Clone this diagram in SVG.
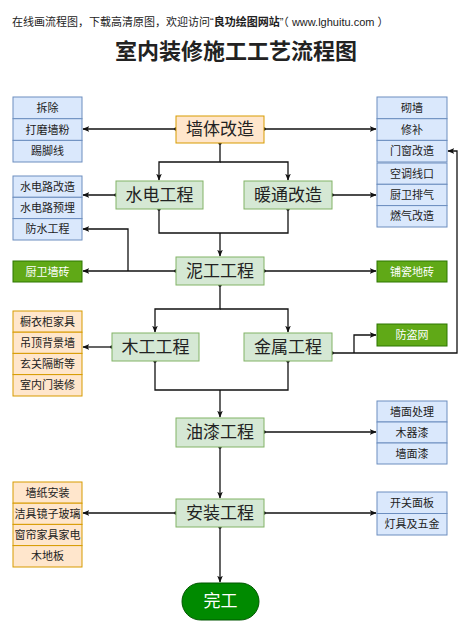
<svg xmlns="http://www.w3.org/2000/svg" width="475" height="632" viewBox="0 0 475 632">
<defs>
<marker id="arr" viewBox="0 0 10 10" refX="9" refY="5" markerWidth="7" markerHeight="7" markerUnits="userSpaceOnUse" orient="auto"><path d="M0,1 L10,5 L0,9 L2.5,5 Z" fill="#111"/></marker>
<marker id="dot" viewBox="0 0 10 10" refX="5" refY="5" markerWidth="4" markerHeight="4" markerUnits="userSpaceOnUse" orient="auto"><circle cx="5" cy="5" r="4.5" fill="#111"/></marker>
</defs>
<style>
text{font-family:"Liberation Sans","Noto Sans CJK SC",sans-serif;fill:#222}
.c{stroke:#111;stroke-width:1.3;fill:none}
.a{marker-end:url(#arr)}
.s{marker-start:url(#dot)}
.blue rect{fill:#dae8fc;stroke:#6c8ebf;stroke-width:1}
.org rect{fill:#ffe6cc;stroke:#d79b00;stroke-width:1}
.grn rect{fill:#d5e8d4;stroke:#82b366;stroke-width:1}
.dg rect{fill:#60a917;stroke:#2d7600;stroke-width:1}
.dg text{fill:#fff}
.sm{font-size:11px;text-anchor:middle;dominant-baseline:central}
.big{font-size:17px;text-anchor:middle;dominant-baseline:central}
</style>
<rect width="475" height="632" fill="#fff"/>
<text x="12" y="26" font-size="11">在线画流程图，下载高清原图，欢迎访问“<tspan font-weight="bold">良功绘图网站</tspan>”（ www.lghuitu.com ）</text>
<text x="236" y="59" font-size="22" font-weight="bold" text-anchor="middle">室内装修施工工艺流程图</text>

<g id="connectors">
<path class="c a s" d="M176,129 H83"/>
<path class="c a s" d="M264,129 H376"/>
<path class="c a s" d="M220,143 V162 H159 V180"/>
<path class="c a" d="M220,162 H288 V180"/>
<path class="c a s" d="M116,195 H83"/>
<path class="c a s" d="M332,195 H376"/>
<path class="c s" d="M159,209 V233 H220"/>
<path class="c s" d="M288,209 V233 H220"/>
<path class="c a" d="M220,233 V256"/>
<path class="c a s" d="M176,271 H83"/>
<path class="c a" d="M128,271 V229 H83"/>
<path class="c a s" d="M264,271 H376"/>
<path class="c a s" d="M220,285 V309 H155 V332"/>
<path class="c a" d="M220,309 H288 V332"/>
<path class="c a s" d="M112,347 H83"/>
<path class="c a s" d="M332,353 H457 V151 H448"/>
<path class="c a" d="M354,353 V335 H376"/>
<path class="c s" d="M155,361 V390 H220"/>
<path class="c s" d="M288,361 V390 H220"/>
<path class="c a" d="M220,390 V417"/>
<path class="c a s" d="M264,432 H376"/>
<path class="c a s" d="M220,447 V498"/>
<path class="c a s" d="M176,513 H83"/>
<path class="c a s" d="M264,513 H376"/>
<path class="c a s" d="M220,527 V582"/>
</g>

<g id="n-qiangti"><rect x="176" y="116" width="88" height="27" fill="#ffe6cc" stroke="#d79b00"/><text class="big" x="220" y="129.5">墙体改造</text></g>
<g id="n-shuidian" class="grn"><rect x="116" y="181" width="87" height="28"/><text class="big" x="159.5" y="195">水电工程</text></g>
<g id="n-nuantong" class="grn"><rect x="244" y="181" width="88" height="28"/><text class="big" x="288" y="195">暖通改造</text></g>
<g id="n-nigong" class="grn"><rect x="176" y="257" width="88" height="28"/><text class="big" x="220" y="271">泥工工程</text></g>
<g id="n-mugong" class="grn"><rect x="112" y="333" width="87" height="28"/><text class="big" x="155.5" y="347">木工工程</text></g>
<g id="n-jinshu" class="grn"><rect x="244" y="333" width="88" height="28"/><text class="big" x="288" y="347">金属工程</text></g>
<g id="n-youqi" class="grn"><rect x="176" y="418" width="88" height="29"/><text class="big" x="220" y="432.5">油漆工程</text></g>
<g id="n-anzhuang" class="grn"><rect x="176" y="499" width="88" height="28"/><text class="big" x="220" y="513">安装工程</text></g>
<g id="n-wangong"><rect x="182" y="583" width="77" height="37" rx="18.5" fill="#008a00" stroke="#005700"/><text class="big" x="220.5" y="601.5" fill="#fff" style="fill:#fff">完工</text></g>

<g id="n-chaichu" class="blue"><rect x="13" y="97" width="69" height="21.7"/><text class="sm" x="47.5" y="108">拆除</text></g>
<g id="n-damo" class="blue"><rect x="13" y="118.7" width="69" height="21.7"/><text class="sm" x="47.5" y="129.5">打磨墙粉</text></g>
<g id="n-tijiao" class="blue"><rect x="13" y="140.4" width="69" height="21.6"/><text class="sm" x="47.5" y="151.2">踢脚线</text></g>

<g id="n-qiqiang" class="blue"><rect x="377" y="97" width="70" height="21.7"/><text class="sm" x="412" y="108">砌墙</text></g>
<g id="n-xiubu" class="blue"><rect x="377" y="118.7" width="70" height="21.7"/><text class="sm" x="412" y="129.5">修补</text></g>
<g id="n-menchuang" class="blue"><rect x="377" y="140.4" width="70" height="21.6"/><text class="sm" x="412" y="151.2">门窗改造</text></g>

<g id="n-kongtiao" class="blue"><rect x="377" y="163" width="70" height="21.3"/><text class="sm" x="412" y="173.7">空调线口</text></g>
<g id="n-chuwei" class="blue"><rect x="377" y="184.3" width="70" height="21.3"/><text class="sm" x="412" y="195">厨卫排气</text></g>
<g id="n-ranqi" class="blue"><rect x="377" y="205.6" width="70" height="21.4"/><text class="sm" x="412" y="216.3">燃气改造</text></g>

<g id="n-sdgz" class="blue"><rect x="13" y="176" width="69" height="21.3"/><text class="sm" x="47.5" y="186.7">水电路改造</text></g>
<g id="n-sdym" class="blue"><rect x="13" y="197.3" width="69" height="21.3"/><text class="sm" x="47.5" y="208">水电路预埋</text></g>
<g id="n-fangshui" class="blue"><rect x="13" y="218.6" width="69" height="21.4"/><text class="sm" x="47.5" y="229.3">防水工程</text></g>

<g id="n-chuweiqz" class="dg"><rect x="13" y="261" width="69" height="21"/><text class="sm" x="47.5" y="271.5">厨卫墙砖</text></g>
<g id="n-puci" class="dg"><rect x="377" y="261" width="70" height="21"/><text class="sm" x="412" y="271.5">铺瓷地砖</text></g>
<g id="n-fangdao" class="dg"><rect x="377" y="324" width="70" height="22"/><text class="sm" x="412" y="335">防盗网</text></g>

<g id="n-chuyi" class="org"><rect x="13" y="311" width="69" height="21.2"/><text class="sm" x="47.5" y="321.6">橱衣柜家具</text></g>
<g id="n-diaoding" class="org"><rect x="13" y="332.2" width="69" height="21.2"/><text class="sm" x="47.5" y="342.8">吊顶背景墙</text></g>
<g id="n-xuanguan" class="org"><rect x="13" y="353.4" width="69" height="21.2"/><text class="sm" x="47.5" y="364">玄关隔断等</text></g>
<g id="n-shineimen" class="org"><rect x="13" y="374.6" width="69" height="21.4"/><text class="sm" x="47.5" y="385.3">室内门装修</text></g>

<g id="n-qmcl" class="blue"><rect x="377" y="401" width="70" height="21"/><text class="sm" x="412" y="411.5">墙面处理</text></g>
<g id="n-muqi" class="blue"><rect x="377" y="422" width="70" height="21"/><text class="sm" x="412" y="432.5">木器漆</text></g>
<g id="n-qmq" class="blue"><rect x="377" y="443" width="70" height="21"/><text class="sm" x="412" y="453.5">墙面漆</text></g>

<g id="n-qiangzhi" class="org"><rect x="13" y="482" width="69" height="21.2"/><text class="sm" x="47.5" y="492.6">墙纸安装</text></g>
<g id="n-jieju" class="org"><rect x="13" y="503.2" width="69" height="21.2"/><text class="sm" x="47.5" y="513.8">洁具镜子玻璃</text></g>
<g id="n-chuanglian" class="org"><rect x="13" y="524.4" width="69" height="21.2"/><text class="sm" x="47.5" y="535">窗帘家具家电</text></g>
<g id="n-mudiban" class="org"><rect x="13" y="545.6" width="69" height="21.4"/><text class="sm" x="47.5" y="556.3">木地板</text></g>

<g id="n-kaiguan" class="blue"><rect x="377" y="492" width="70" height="21.5"/><text class="sm" x="412" y="502.7">开关面板</text></g>
<g id="n-dengju" class="blue"><rect x="377" y="513.5" width="70" height="21.5"/><text class="sm" x="412" y="524.2">灯具及五金</text></g>
</svg>
